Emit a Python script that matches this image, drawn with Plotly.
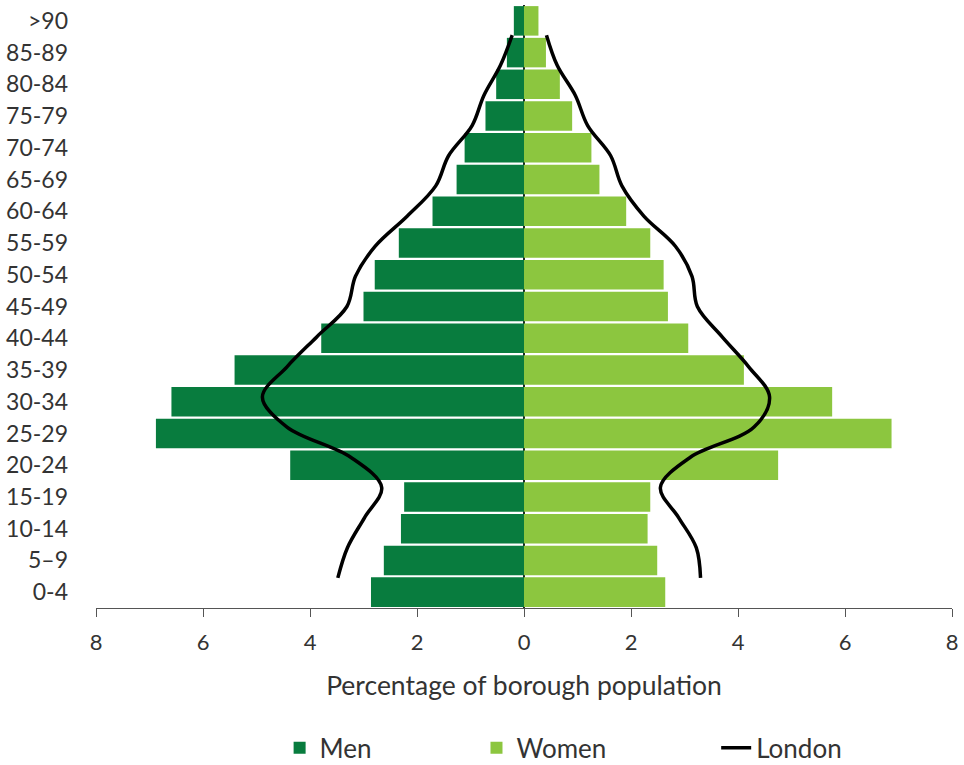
import plotly.graph_objects as go

ages = ["0-4", "5–9", "10-14", "15-19", "20-24", "25-29", "30-34", "35-39",
        "40-44", "45-49", "50-54", "55-59", "60-64", "65-69", "70-74",
        "75-79", "80-84", "85-89", ">90"]

men = [2.86, 2.62, 2.30, 2.24, 4.37, 6.88, 6.59, 5.41, 3.79, 3.00,
       2.79, 2.34, 1.71, 1.26, 1.11, 0.72, 0.52, 0.32, 0.19]
women = [2.64, 2.49, 2.31, 2.36, 4.75, 6.87, 5.76, 4.11, 3.07, 2.69,
         2.61, 2.36, 1.91, 1.41, 1.26, 0.90, 0.67, 0.41, 0.27]

london_men = [3.48, 3.30, 2.98, 2.66, 3.24, 4.43, 4.89, 4.43, 3.87, 3.31,
              3.15, 2.78, 2.18, 1.65, 1.41, 0.97, 0.75, 0.44, 0.22]
london_women = [3.30, 3.22, 2.89, 2.55, 3.11, 4.30, 4.59, 4.20, 3.70, 3.24,
                3.14, 2.83, 2.24, 1.83, 1.62, 1.19, 0.96, 0.62, 0.42]

x_ticks = [-8, -6, -4, -2, 0, 2, 4, 6, 8]

FONT = "Lato"
TXT = "#333333"
MEN_C = "#087c3e"
WOMEN_C = "#8cc63f"

fig = go.Figure()

fig.add_trace(go.Bar(
    y=ages, x=[-v for v in men], orientation="h", name="Men",
    marker=dict(color=MEN_C, line=dict(width=0)), legend="legend",
))
fig.add_trace(go.Bar(
    y=ages, x=women, orientation="h", name="Women",
    marker=dict(color=WOMEN_C, line=dict(width=0)), legend="legend2",
))
fig.add_trace(go.Scatter(
    y=ages + [None] + ages,
    x=[-v for v in london_men] + [None] + london_women,
    mode="lines", name="London", yaxis="y2",
    line=dict(color="black", width=3.5, shape="spline", smoothing=1.0),
    connectgaps=False, legend="legend3",
))

legend_common = dict(orientation="h", yanchor="middle", xanchor="left",
                     y=-0.232, font=dict(family=FONT, size=26, color=TXT),
                     bgcolor="rgba(0,0,0,0)", borderwidth=0)

fig.update_layout(
    width=964, height=765,
    margin=dict(l=96, r=12, t=5, b=157, autoexpand=False),
    paper_bgcolor="white", plot_bgcolor="white",
    barmode="overlay", bargap=0.07,
    font=dict(family=FONT, size=22, color=TXT),
    xaxis=dict(
        range=[-8, 8], tickvals=x_ticks, ticktext=[str(abs(t)) for t in x_ticks],
        showgrid=False, showline=True, linecolor="#555555", linewidth=1.3,
        ticks="outside", ticklen=8, tickcolor="#555555", tickwidth=1.3,
        zeroline=True, zerolinecolor="#1e2a22", zerolinewidth=1.6,
        layer="above traces", automargin=False, ticklabelstandoff=6,
        tickfont=dict(family=FONT, size=22, color=TXT),
        title=dict(text="Percentage of borough population", standoff=22,
                   font=dict(family=FONT, size=26.5, color=TXT)),
    ),
    yaxis=dict(
        type="category", categoryorder="array", categoryarray=ages,
        range=[-0.5, 18.5], showgrid=False, showline=False, ticks="",
        zeroline=False, ticklabelstandoff=27, automargin=False,
        tickfont=dict(family=FONT, size=23, color=TXT),
    ),
    yaxis2=dict(
        type="category", categoryorder="array", categoryarray=ages,
        overlaying="y", range=[-1, 19], visible=False,
    ),
    legend=dict(x=0.2145, **legend_common),
    legend2=dict(x=0.4445, **legend_common),
    legend3=dict(x=0.7245, **legend_common),
    showlegend=True,
)

fig.write_html("out.html",
               config={"displayModeBar": False},
               post_script="document.body.style.margin='0px';")
